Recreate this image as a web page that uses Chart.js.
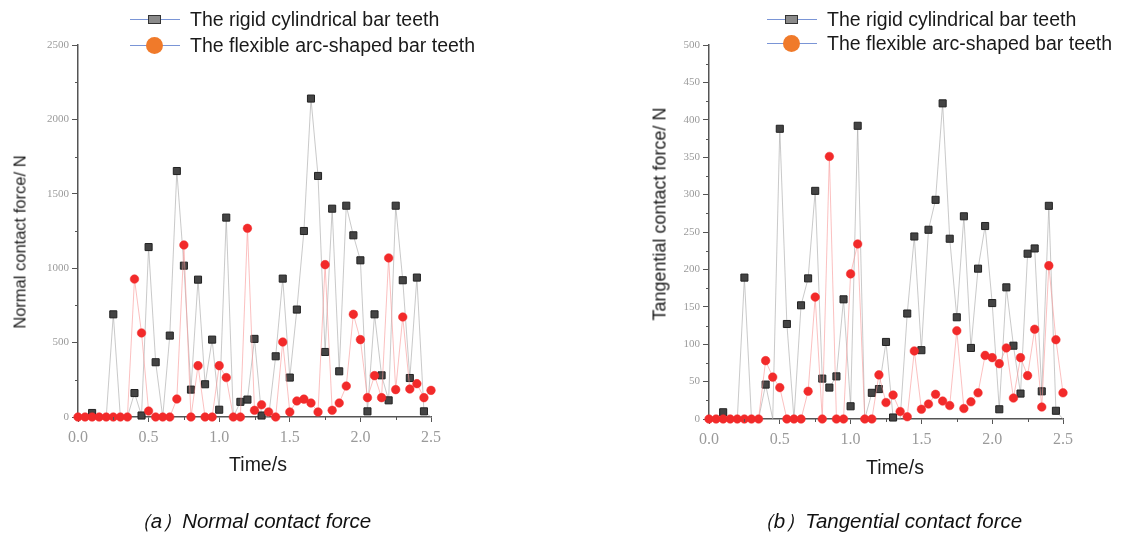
<!DOCTYPE html>
<html>
<head>
<meta charset="utf-8">
<script src="https://cdn.jsdelivr.net/npm/chart.js@4.4.1/dist/chart.umd.min.js"></script>
<style>
  html, body { margin: 0; padding: 0; background: #ffffff; }
  body { width: 1125px; height: 534px; position: relative; overflow: hidden; font-family: "Liberation Sans", Arial, sans-serif; }
  .box { position: absolute; top: 0; height: 534px; }
  .lbl { position: absolute; white-space: nowrap; color: #1a1a1a; font-size: 18px; transform: translate(-50%, -50%); }
  .ylbl { transform: translate(-50%, -50%) rotate(-90deg); }
  .cap { font-style: italic; font-size: 20.5px; color: #111; }
  .leg { position: absolute; height: 20px; font-size: 19.5px; color: #1a1a1a; white-space: nowrap; }
  .leg .ln { position: absolute; left: 0; top: 10px; width: 50px; height: 1px; background: #7a95d6; }
  .leg .sq { position: absolute; left: 18px; top: 6px; width: 11px; height: 7px; background: #8a8a8a; border: 1px solid #333; }
  .leg .ci { position: absolute; left: 16px; top: 2px; width: 17px; height: 17px; border-radius: 50%; background: #f07a2a; }
  .leg .tx { position: absolute; left: 60px; top: 0; line-height: 20px; }
</style>
</head>
<body>
<div class="box" style="left:0;width:500px;"><canvas id="c1"></canvas></div>
<div class="box" style="left:630px;width:495px;"><canvas id="c2"></canvas></div>

<div class="leg" style="left:130px;top:9px;"><div class="ln"></div><div class="sq"></div><div class="tx">The rigid cylindrical bar teeth</div></div>
<div class="leg" style="left:130px;top:35px;"><div class="ln"></div><div class="ci"></div><div class="tx">The flexible arc-shaped bar teeth</div></div>
<div class="leg" style="left:767px;top:9px;"><div class="ln"></div><div class="sq"></div><div class="tx">The rigid cylindrical bar teeth</div></div>
<div class="leg" style="left:767px;top:33px;"><div class="ln"></div><div class="ci"></div><div class="tx">The flexible arc-shaped bar teeth</div></div>

<div class="lbl ylbl" style="left:20px;top:242px;font-size:16.5px;">Normal contact force/ N</div>
<div class="lbl" style="left:258px;top:464px;font-size:19.5px;">Time/s</div>
<div class="lbl ylbl" style="left:660px;top:214px;">Tangential contact force/ N</div>
<div class="lbl" style="left:895px;top:467px;font-size:19.5px;">Time/s</div>

<div class="lbl cap" style="left:251px;top:521px;">（a）Normal contact force</div>
<div class="lbl cap" style="left:888px;top:521px;">（b）Tangential contact force</div>

<script>
// ---------------- data ----------------
const timeS = [0.00,0.05,0.10,0.15,0.20,0.25,0.30,0.35,0.40,0.45,
               0.50,0.55,0.60,0.65,0.70,0.75,0.80,0.85,0.90,0.95,
               1.00,1.05,1.10,1.15,1.20,1.25,1.30,1.35,1.40,1.45,
               1.50,1.55,1.60,1.65,1.70,1.75,1.80,1.85,1.90,1.95,
               2.00,2.05,2.10,2.15,2.20,2.25,2.30,2.35,2.40,2.45,2.50];

const seriesNames = ["The rigid cylindrical bar teeth", "The flexible arc-shaped bar teeth"];

// (a) Normal contact force / N
const normalRigid = [0,0,27,0,0,690,0,0,161,10,
                     1142,368,0,547,1653,1017,184,923,220,520,
                     49,1340,0,102,117,525,10,0,408,930,
                     265,722,1250,2140,1620,437,1400,307,1420,1221,
                     1053,38,690,280,112,1420,919,262,937,38,0];
const normalFlexible = [0,0,0,0,0,0,0,0,927,565,
                        40,0,0,0,121,1156,0,345,0,0,
                        345,265,0,0,1268,45,82,34,0,504,
                        34,108,120,94,34,1024,45,94,208,690,
                        520,130,278,130,1069,184,672,188,224,130,179];

// (b) Tangential contact force / N
const tangRigid = [0,0,9,0,0,189,0,0,46,0,
                   388,127,0,152,188,305,54,42,57,160,
                   17,392,0,35,40,103,2,0,141,244,
                   92,253,293,422,241,136,271,95,201,258,
                   155,13,176,98,34,221,228,37,285,11,0];
const tangFlexible = [0,0,0,0,0,0,0,0,78,56,
                      42,0,0,0,37,163,0,351,0,0,
                      194,234,0,0,59,22,32,10,3,91,
                      13,20,33,24,18,118,14,23,35,85,
                      82,74,95,28,82,58,120,16,205,106,35];

const xTickLabels = ["0.0","0.5","1.0","1.5","2.0","2.5"];
const normalTicks = [0,500,1000,1500,2000,2500];
const tangTicks = [0,50,100,150,200,250,300,350,400,450,500];

// ---------------- helpers ----------------
const AXIS = '#555555';
const TICKCOL = '#9a9a9a';

const minorTicks = {
  id: 'minorTicks',
  afterDraw(chart, args, opts) {
    const ctx = chart.ctx;
    const xs = chart.scales.x, ys = chart.scales.y;
    ctx.save();
    ctx.strokeStyle = AXIS;
    ctx.lineWidth = 1;
    ctx.beginPath();
    for (let v = opts.xStep / 2; v < xs.max; v += opts.xStep) {
      const px = Math.round(xs.getPixelForValue(v)) + 0.5;
      ctx.moveTo(px, ys.bottom);
      ctx.lineTo(px, ys.bottom + 3);
    }
    for (let v = opts.yStep / 2; v < ys.max; v += opts.yStep) {
      const py = Math.round(ys.getPixelForValue(v)) + 0.5;
      ctx.moveTo(xs.left, py);
      ctx.lineTo(xs.left - 3, py);
    }
    ctx.stroke();
    ctx.restore();
  }
};

function pts(vals) { return vals.map((v, i) => ({ x: timeS[i], y: v })); }

function makeChart(id, rigid, flex, yMax, yTicks, cfg) {
  const c = document.getElementById(id);
  return new Chart(c, {
    type: 'line',
    data: {
      datasets: [
        {
          label: seriesNames[1], data: pts(flex), order: 0,
          borderColor: 'rgba(248,150,150,0.6)', borderWidth: 1,
          pointStyle: 'circle', pointRadius: 4.3, pointHoverRadius: 4.3,
          pointBackgroundColor: '#f22a2a', pointBorderColor: '#f22a2a', pointBorderWidth: 0.5,
          tension: 0
        },
        {
          label: seriesNames[0], data: pts(rigid), order: 1,
          borderColor: 'rgba(165,165,165,0.6)', borderWidth: 1,
          pointStyle: 'rect',
          pointRadius: (ctx) => (ctx.raw && ctx.raw.y === 0 ? 0 : 5),
          pointHoverRadius: 5,
          pointBackgroundColor: '#444444', pointBorderColor: '#222222', pointBorderWidth: 1,
          tension: 0
        }
      ]
    },
    options: {
      responsive: true,
      maintainAspectRatio: false,
      animation: false,
      events: [],
      clip: false,
      layout: { padding: cfg.padding },
      plugins: {
        legend: { display: false },
        tooltip: { enabled: false },
        minorTicks: { xStep: 0.5, yStep: cfg.yStep }
      },
      scales: {
        x: {
          type: 'linear', min: 0, max: 2.5,
          afterBuildTicks: (s) => { s.ticks = xTickLabels.map(t => ({ value: parseFloat(t) })); },
          ticks: {
            callback: (v) => xTickLabels.find(t => parseFloat(t) === v) ?? '',
            color: TICKCOL, padding: 6, maxRotation: 0, autoSkip: false,
            font: { family: 'Liberation Serif', size: 16 }
          },
          grid: { drawOnChartArea: false, drawTicks: true, tickLength: 5, color: AXIS, lineWidth: 1 },
          border: { display: true, color: AXIS, width: 1.5 },
          afterFit: (s) => { s.height = 40; }
        },
        y: {
          type: 'linear', min: 0, max: yMax,
          afterBuildTicks: (s) => { s.ticks = yTicks.map(v => ({ value: v })); },
          ticks: {
            callback: (v) => String(v),
            color: TICKCOL, padding: 3, autoSkip: false,
            font: { family: 'Liberation Serif', size: cfg.yFont }
          },
          grid: { drawOnChartArea: false, drawTicks: true, tickLength: 6, color: AXIS, lineWidth: 1 },
          border: { display: true, color: AXIS, width: 1.5 },
          afterFit: (s) => { s.width = cfg.yWidth; }
        }
      }
    },
    plugins: [minorTicks]
  });
}

makeChart('c1', normalRigid, normalFlexible, 2500, normalTicks,
  { padding: { left: 0, top: 45, right: 69, bottom: 77 }, yWidth: 78, yStep: 500, yFont: 11 });
makeChart('c2', tangRigid, tangFlexible, 500, tangTicks,
  { padding: { left: 0, top: 45, right: 62, bottom: 75 }, yWidth: 79, yStep: 50, yFont: 11 });
</script>
</body>
</html>
